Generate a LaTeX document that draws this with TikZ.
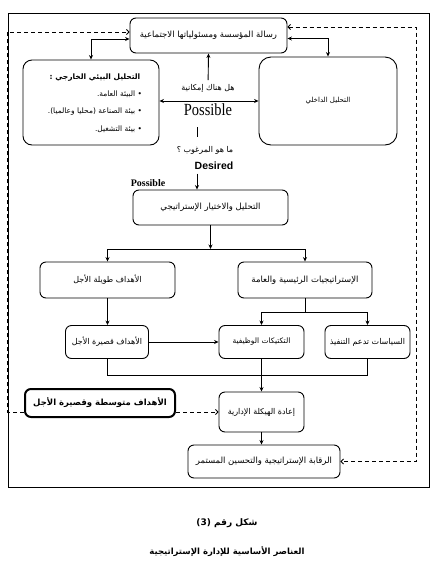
\documentclass[tikz,border=0pt]{standalone}
\usepackage{fontspec}
\setmainfont{Liberation Serif}
\newfontfamily\arabicfont[Script=Arabic]{DejaVu Sans}
\newfontfamily\labelsans{Liberation Sans}
\TeXXeTstate=1
\usetikzlibrary{arrows.meta}
\tikzset{
    txt/.style={font=\arabicfont\fontsize{8}{9.5}\selectfont},
    big/.style={font=\arabicfont\fontsize{8.5}{10}\selectfont},
    box/.style={txt, draw, rounded corners=6pt, align=center, inner sep=2pt},
    frame/.style={draw, line width=0.7pt},
    arr/.style={-{Stealth[length=4.5pt,width=4pt]}},
    dbl/.style={{Stealth[length=4.5pt,width=4pt]}-{Stealth[length=4.5pt,width=4pt]}},
    fb/.style={dashed, dash pattern=on 4pt off 3pt, -{Straight Barb[length=2.5pt,width=5pt]}},
    fbb/.style={dashed, dash pattern=on 4pt off 3pt, {Straight Barb[length=2.5pt,width=5pt]}-{Straight Barb[length=2.5pt,width=5pt]}}
}
\begin{document}
\begin{tikzpicture}[x=1pt, y=-1pt, line width=0.9pt]
    \def\stemx{197}
    \def\splitA{249}
    \def\splitB{312}
    \def\joinC{375}
    \useasboundingbox (0,0) rectangle (446,579);

    \node[frame, minimum width=421pt, minimum height=474pt] (frm) at (218.5,250) {};
    \coordinate (rgt) at (416,250);

    \node[box, big, minimum width=157pt, minimum height=35pt] (msn) at (208.5,35.5) {\beginR رسالة المؤسسة ومسئولياتها الاجتماعية\endR};
    \node[box, minimum width=136pt, minimum height=85pt, rounded corners=9pt] (ext) at (91,102.5) {};
    \node[font=\arabicfont\fontsize{7.5}{9}\selectfont] (extt) at (95,102) {\renewcommand{\arraystretch}{1.9}\begin{tabular}{@{}r@{}}\multicolumn{1}{@{}c@{}}{\bfseries\beginR التحليل البيئي الخارجي :\endR}\\ \beginR • البيئة العامة.\endR\\ \beginR • بيئة الصناعة (محليا وعالميا).\endR\\ \beginR • بيئة التشغيل.\endR\end{tabular}};
    \node[box, font=\arabicfont\fontsize{7}{8.5}\selectfont, minimum width=138pt, minimum height=88pt, rounded corners=12pt] (int) at (328,101) {\beginR التحليل الداخلي\endR};

    \node[txt] (q1) at (208,88) {\beginR هل هناك إمكانية\endR};
    \node[font=\fontsize{17}{17}\selectfont] (pos) at (208,110) {\scalebox{0.85}[1]{Possible}};
    \node[txt] (q2) at (205,150) {\beginR ما هو المرغوب ؟\endR};
    \node[font=\labelsans\bfseries\fontsize{10.5}{11}\selectfont] (des) at (214,166) {Desired};
    \node[font=\bfseries\fontsize{10}{11}\selectfont] (pl) at (148,183) {Possible};
    \coordinate (s1) at (\stemx,127);

    \node[box, big, minimum width=155pt, minimum height=35pt] (ana) at (210.5,207.5) {\beginR التحليل والاختيار الإستراتيجي\endR};
    \node[box, minimum width=135pt, minimum height=36pt] (lng) at (107.5,280) {\beginR الأهداف طويلة الأجل\endR};
    \node[box, big, minimum width=134pt, minimum height=36pt] (str) at (305,280) {\beginR الإستراتيجيات الرئيسية والعامة\endR};
    \node[box, minimum width=83pt, minimum height=33pt] (sht) at (107,342) {\beginR الأهداف قصيرة الأجل\endR};
    \node[box, font=\arabicfont\fontsize{7.5}{9}\selectfont, minimum width=85pt, minimum height=33pt] (tac) at (261.5,342) {\beginR التكتيكات الوظيفية\endR};
    \node[box, minimum width=85pt, minimum height=33pt] (pol) at (367.5,342) {\beginR السياسات تدعم التنفيذ\endR};
    \node[box, minimum width=150pt, minimum height=28pt, line width=2pt, font=\arabicfont\bfseries\fontsize{8.5}{10}\selectfont] (mid) at (100,403) {\beginR الأهداف متوسطة وقصيرة الأجل\endR};
    \node[box, minimum width=85pt, minimum height=40pt] (res) at (261.5,412) {\beginR إعادة الهيكلة الإدارية\endR};
    \node[box, big, minimum width=152pt, minimum height=33pt] (mon) at (264,461.5) {\beginR الرقابة الإستراتيجية والتحسين المستمر\endR};

    \node[font=\arabicfont\bfseries\fontsize{9}{11}\selectfont] (cap1) at (227,523) {\beginR شكل رقم \beginL(3)\endL\endR};
    \node[font=\arabicfont\bfseries\fontsize{8.5}{10}\selectfont] (cap2) at (227,552) {\beginR العناصر الأساسية للإدارة الإستراتيجية\endR};

    \draw[dbl] ([yshift=-3.5pt]msn.west) -| (ext.north);
    \draw[dbl] ([yshift=-3pt]msn.east) -| (int.north);
    \draw[dbl] (int.west -| ext.east) -- (int.west);
    \draw[arr] (q1) -- (msn.south);
    \draw (s1) -- ++(0,10);
    \draw[arr] (des.south -| s1) -- (ana.north -| s1);

    \draw[arr] (ana.south) -- (ana.south |- 0,\splitA) coordinate (b1);
    \draw[arr] (b1) -| (lng.north);
    \draw[arr] (b1) -| (str.north);
    \draw[arr] (lng.south) -- (lng.south |- sht.north);
    \draw (str.south) -- (str.south |- 0,\splitB) coordinate (b2);
    \draw[arr] (b2) -| (tac.north);
    \draw[arr] (b2) -| (pol.north);
    \draw[arr] (sht.east) -- (sht.east -| tac.west);
    \draw (sht.south) |- (pol.south |- 0,\joinC) -- (pol.south);
    \draw[arr] (tac.south) -- (tac.south |- res.north);
    \draw[arr] (res.south) -- (res.south |- mon.north);

    \draw[fb] (mid.east |- res.west) -- (res.west);
    \draw[fb] (mid.west |- res.west) -| (frm.west) |- ([yshift=3.5pt]msn.west);
    \draw[fbb] ([yshift=8.5pt]msn.east) -| (rgt) |- (mon.east);
\end{tikzpicture}
\end{document}
